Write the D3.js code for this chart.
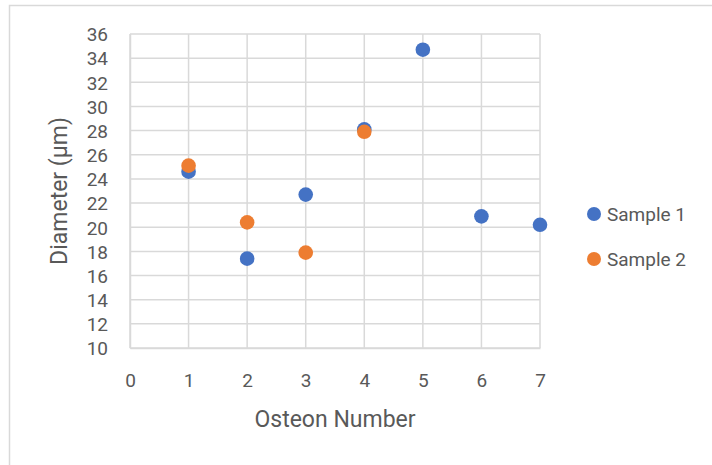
<!DOCTYPE html>
<html><head><meta charset="utf-8">
<script src="https://cdn.jsdelivr.net/npm/d3@7/dist/d3.min.js"></script>
<style>
html,body{margin:0;padding:0;background:#fff;}
text{font-family:Roboto,"Open Sans",sans-serif;fill:#595959;}
</style></head>
<body>
<svg id="chart" width="712" height="465"></svg>
<script>
const seriesNames = ["Sample 1", "Sample 2"];
const sample1X = [1, 2, 3, 4, 5, 6, 7];
const sample1Y = [24.6, 17.4, 22.7, 28.1, 34.7, 20.9, 20.2];
const sample2X = [1, 2, 3, 4];
const sample2Y = [25.1, 20.4, 17.9, 27.9];
const xTicks = [0, 1, 2, 3, 4, 5, 6, 7];
const yTicks = [10, 12, 14, 16, 18, 20, 22, 24, 26, 28, 30, 32, 34, 36];
const colors = ["#4472C4", "#ED7D31"];
const xTitle = "Osteon Number";
const yTitle = "Diameter (µm)";

const svg = d3.select("#chart");
// chart area border
svg.append("rect").attr("x", 9.5).attr("y", 5.5).attr("width", 800).attr("height", 600)
  .attr("fill", "#fff").attr("stroke", "#d9d9d9").attr("stroke-width", 1.5);

const L = 130, R = 540, T = 34, B = 348;
const x = d3.scaleLinear().domain([0, 7]).range([L, R]);
const y = d3.scaleLinear().domain([10, 36]).range([B, T]);

const grid = svg.append("g");
grid.selectAll("line.v").data(xTicks).join("line")
  .attr("x1", d => x(d)).attr("x2", d => x(d)).attr("y1", T).attr("y2", B)
  .attr("stroke", "#d9d9d9").attr("stroke-width", 1.5);
grid.selectAll("line.h").data(yTicks).join("line")
  .attr("x1", L).attr("x2", R).attr("y1", d => y(d)).attr("y2", d => y(d))
  .attr("stroke", "#d9d9d9").attr("stroke-width", 1.5);

// axes (labels only)
const xAxis = d3.axisBottom(x).tickValues(xTicks).tickSize(0).tickPadding(0).tickFormat(d3.format("d"));
const gx = svg.append("g").attr("transform", `translate(0,${B})`).call(xAxis);
gx.select(".domain").attr("stroke", "#d9d9d9").attr("stroke-width", 1.5);
gx.selectAll("text").attr("dy", null).attr("y", 39).attr("font-size", 19).attr("fill", "#595959")
  .style("font-family", "Roboto");

const yAxis = d3.axisLeft(y).tickValues(yTicks).tickSize(0).tickPadding(0).tickFormat(d3.format("d"));
const gy = svg.append("g").attr("transform", `translate(${L},0)`).call(yAxis);
gy.select(".domain").attr("stroke", "#d9d9d9").attr("stroke-width", 1.5);
gy.selectAll("text").attr("x", -22).attr("dy", "0.36em").attr("font-size", 19).attr("fill", "#595959")
  .style("font-family", "Roboto");

// titles
svg.append("text").attr("x", (L + R) / 2).attr("y", 427).attr("text-anchor", "middle")
  .attr("font-size", 23).text(xTitle);
svg.append("text").attr("transform", `translate(67,${(T + B) / 2}) rotate(-90)`)
  .attr("text-anchor", "middle").attr("font-size", 23).text(yTitle);

// points
const series = [
  { name: seriesNames[0], xs: sample1X, ys: sample1Y, color: colors[0] },
  { name: seriesNames[1], xs: sample2X, ys: sample2Y, color: colors[1] }
];
series.forEach(s => {
  svg.append("g").selectAll("circle").data(s.xs.map((v, i) => [v, s.ys[i]])).join("circle")
    .attr("cx", d => x(d[0])).attr("cy", d => y(d[1])).attr("r", 7.3).attr("fill", s.color);
});

// legend
const lg = svg.append("g");
series.forEach((s, i) => {
  const cy = 214 + i * 45;
  lg.append("circle").attr("cx", 594).attr("cy", cy).attr("r", 7).attr("fill", s.color);
  lg.append("text").attr("x", 607).attr("y", cy).attr("dy", "0.36em").attr("font-size", 19).text(s.name);
});
</script>
</body></html>
